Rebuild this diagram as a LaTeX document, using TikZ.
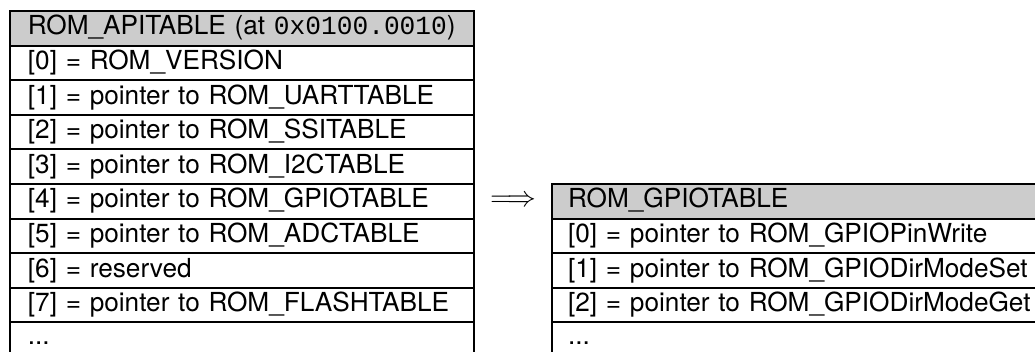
\documentclass[tikz,border=0pt]{standalone}
\usepackage{fontspec}
\setmainfont{TeX Gyre Heros}
\setmonofont{Liberation Mono}
\definecolor{hdrgray}{RGB}{204,204,204}
\begin{document}
\begin{tikzpicture}[x=0.5pt,y=-0.5pt,
  rowbox/.style={draw, line width=1pt, anchor=north west, inner ysep=0pt,
    outer sep=0pt, text height=12pt, text depth=5.3pt, minimum height=17.3pt,
    align=left, font=\fontsize{13.1pt}{15pt}\selectfont},
  lrow/.style={rowbox, inner xsep=9.2pt, text width=213.85pt},
  rrow/.style={rowbox, inner xsep=8.2pt, text width=230.3pt},
  hdr/.style={fill=hdrgray},
  dotrow/.style={anchor=north west, inner ysep=0pt, outer sep=0pt,
    text height=11pt, text depth=9pt, align=left,
    font=\fontsize{13.1pt}{15pt}\selectfont},
  borderline/.style={line width=1pt}]
\useasboundingbox (0,0) rectangle (1035,352);
% left table
\node[lrow,hdr] (lh) at (9.5,11) {\mbox{ROM\_APITABLE (at {\addfontfeature{LetterSpace=1.5}\texttt{0x0100.0010}})}};
\node[lrow] (l0) at (9.5,45.6) {\mbox{[0] = ROM\_VERSION}};
\node[lrow] (l1) at (9.5,80.2) {\mbox{[1] = pointer to ROM\_UARTTABLE}};
\node[lrow] (l2) at (9.5,114.8) {\mbox{[2] = pointer to ROM\_SSITABLE}};
\node[lrow] (l3) at (9.5,149.4) {\mbox{[3] = pointer to ROM\_I2CTABLE}};
\node[lrow] (l4) at (9.5,184) {\mbox{[4] = pointer to ROM\_GPIOTABLE}};
\node[lrow] (l5) at (9.5,218.6) {\mbox{[5] = pointer to ROM\_ADCTABLE}};
\node[lrow] (l6) at (9.5,253.2) {\mbox{[6] = reserved}};
\node[lrow] (l7) at (9.5,287.8) {\mbox{[7] = pointer to ROM\_FLASHTABLE}};
\node[dotrow, inner xsep=9.2pt, text width=213.85pt] (l8) at (9.5,322.4) {...};
\draw[borderline] (l8.south west) -- (l8.north west) -- (l8.north east) -- (l8.south east);
% arrow
\node[inner sep=0pt, font=\fontsize{13.3pt}{15pt}\selectfont] (arr) at (513,201.7) {$\Longrightarrow$};
% right table
\node[rrow,hdr] (rh) at (551.7,184) {\mbox{ROM\_GPIOTABLE}};
\node[rrow] (r0) at (551.7,218.6) {\mbox{[0] = pointer to ROM\_GPIOPinWrite}};
\node[rrow] (r1) at (551.7,253.2) {\mbox{[1] = pointer to ROM\_GPIODirModeSet}};
\node[rrow] (r2) at (551.7,287.8) {\mbox{[2] = pointer to ROM\_GPIODirModeGet}};
\node[dotrow, inner xsep=8.2pt, text width=230.3pt] (r3) at (551.7,322.4) {...};
\draw[borderline] (r3.south west) -- (r3.north west) -- (r3.north east) -- (r3.south east);
\end{tikzpicture}
\end{document}
